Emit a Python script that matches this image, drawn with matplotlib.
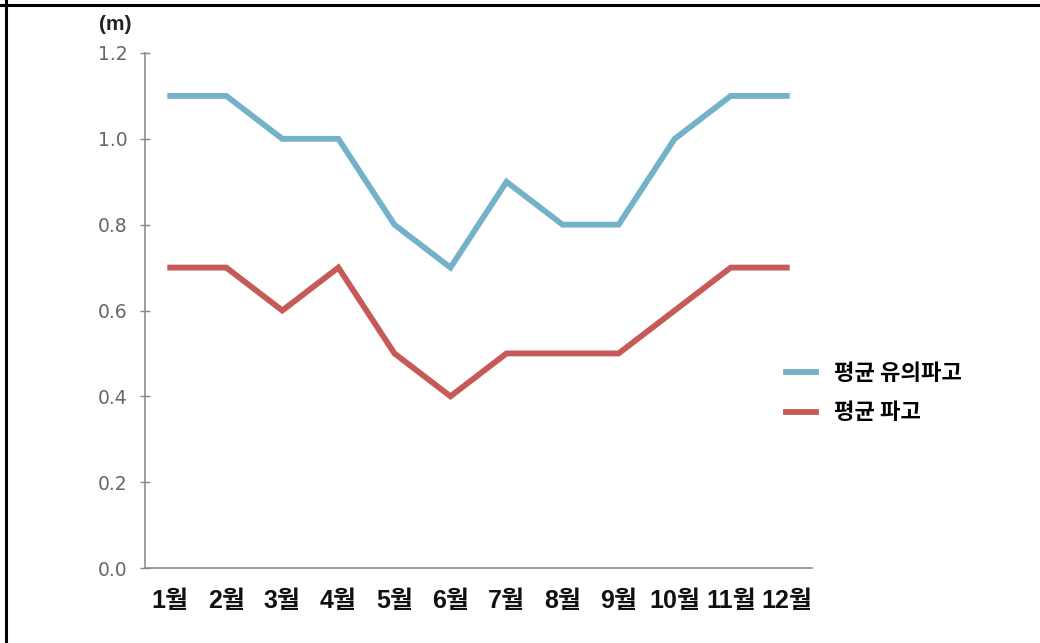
import matplotlib.pyplot as plt
from matplotlib.lines import Line2D

plt.rcParams["font.family"] = ["Liberation Sans", "Noto Sans CJK KR", "DejaVu Sans"]

# monthly averages
months = ["1월", "2월", "3월", "4월", "5월", "6월", "7월", "8월", "9월", "10월", "11월", "12월"]
sig_wave = [1.1, 1.1, 1.0, 1.0, 0.8, 0.7, 0.9, 0.8, 0.8, 1.0, 1.1, 1.1]
mean_wave = [0.7, 0.7, 0.6, 0.7, 0.5, 0.4, 0.5, 0.5, 0.5, 0.6, 0.7, 0.7]
y_ticks = [0.0, 0.2, 0.4, 0.6, 0.8, 1.0, 1.2]

blue = "#74b2ca"
red = "#c55a57"
lw = 4.2

fig = plt.figure(figsize=(10.4, 6.43), dpi=100)
ax = fig.add_axes([145 / 1040, 1 - 568 / 643, (812 - 145) / 1040, (568 - 53) / 643])

x = list(range(len(months)))
ax.plot(x, sig_wave, color=blue, lw=lw, solid_joinstyle="miter", label="평균 유의파고")
ax.plot(x, mean_wave, color=red, lw=lw, solid_joinstyle="miter", label="평균 파고")

ax.set_xlim(-0.45, len(months) - 0.55)
ax.set_ylim(0, 1.2)
ax.set_yticks(y_ticks)
ax.set_yticklabels([f"{v:.1f}" for v in y_ticks], fontsize=13.5, color="#666666",
                   family="DejaVu Sans")
ax.set_xticks(x)
ax.set_xticklabels(months, fontsize=18, fontweight="bold", color="#111111")
ax.tick_params(axis="x", length=0, pad=15)
ax.tick_params(axis="y", direction="inout", length=7, width=1, color="#888888", pad=9)

for side in ["top", "right"]:
    ax.spines[side].set_visible(False)
for side in ["left", "bottom"]:
    ax.spines[side].set_color("#8c8c8c")
    ax.spines[side].set_linewidth(1.2)

fig.text(115 / 1040, 1 - 24 / 643, "(m)", fontsize=15, fontweight="bold",
         ha="center", va="center", color="#222222")

handles = [Line2D([], [], color=blue, lw=lw), Line2D([], [], color=red, lw=lw)]
fig.legend(handles, ["평균 유의파고", "평균 파고"], loc="center left",
           bbox_to_anchor=(766 / 1040, 1 - 393 / 643), frameon=False,
           prop={"size": 16, "weight": "bold", "family": ["Noto Sans CJK KR"]},
           handlelength=1.35, handletextpad=0.8, labelspacing=0.75)

# frame lines along the top and left edges
fig.add_artist(Line2D([0, 1], [1 - 5 / 643] * 2, color="black", lw=2.2, transform=fig.transFigure))
fig.add_artist(Line2D([6 / 1040] * 2, [0, 1], color="black", lw=2.2, transform=fig.transFigure))

fig.savefig("out.png", dpi=100)
